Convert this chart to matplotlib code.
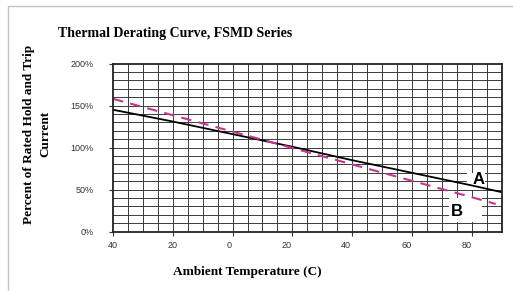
import matplotlib
matplotlib.use("Agg")
import matplotlib.pyplot as plt
import matplotlib.transforms as mtransforms
from matplotlib.patches import Rectangle

# Data
temps = [-40, -20, 0, 20, 40, 60, 80, 90]
curve_a = [145, 131, 116, 101, 85, 70, 55, 47]
temps_b = [-40, -20, 0, 20, 40, 60, 80, 88]
curve_b = [158, 138.5, 119, 99.5, 80, 60.5, 41, 33]
xtick_vals = [-40, -20, 0, 20, 40, 60, 80]
xtick_labels = ["40", "20", "0", "20", "40", "60", "80"]
ytick_vals = [0, 50, 100, 150, 200]
ytick_labels = ["0%", "50%", "100%", "150%", "200%"]

title = "Thermal Derating Curve, FSMD Series"
ylabel = "Percent of Rated Hold and Trip\nCurrent"
xlabel = "Ambient Temperature (C)"

W, H = 513, 291
fig = plt.figure(figsize=(W / 100, H / 100), dpi=100)
fig.patch.set_facecolor("white")

# outer frame (top and left edges visible)
fig.patches.append(Rectangle((8 / W, -0.2), 1.2, 1.2 - 6 / H,
                             transform=fig.transFigure, fill=False,
                             edgecolor="#c4c4c4", linewidth=1.0))

ax = fig.add_axes([113 / W, 1 - 231.7 / H, (501.7 - 113) / W, (231.7 - 63.5) / H])
ax.set_xlim(-40, 90)
ax.set_ylim(0, 200)

# grid
for gx in range(-35, 90, 5):
    ax.axvline(gx, color="#3a3a3a", lw=0.7, zorder=1)
for gy in range(10, 200, 10):
    ax.axhline(gy, color="#3a3a3a", lw=0.7, zorder=1)

# label boxes
ax.add_patch(Rectangle((72.3, 11.5), 11.0, 29.0, facecolor="white", edgecolor="none", zorder=2))
ax.add_patch(Rectangle((78.5, 49.0), 6.0, 21.0, facecolor="white", edgecolor="none", zorder=2))

ax.plot(temps, curve_a, color="black", lw=1.3, zorder=4)
ax.plot(temps_b, curve_b, color="#C8338F", lw=1.5, dashes=(5, 3.5), zorder=4)

ax.text(82.1, 61.5, "A", family="Liberation Sans", weight="bold", fontsize=12,
        ha="center", va="center", zorder=3)
ax.text(74.9, 24.6, "B", family="Liberation Sans", weight="bold", fontsize=12,
        ha="center", va="center", zorder=3)

for s in ax.spines.values():
    s.set_color("#222222")
    s.set_linewidth(1.3)
    s.set_zorder(5)

ax.set_xticks(xtick_vals)
ax.set_xticklabels(xtick_labels, family="Liberation Sans", fontsize=6.5, color="#333333")
ax.set_yticks(ytick_vals)
ax.set_yticklabels(ytick_labels, family="Liberation Sans", fontsize=6.5, color="#333333")
ax.tick_params(axis="x", length=3, width=0.8, pad=4, color="#333333")
ax.tick_params(axis="y", length=3, width=0.8, pad=11, color="#333333")
for lab in ax.get_yticklabels():
    lab.set_horizontalalignment("right")

offsets = [0, 0, -3, -5.5, -6, -5, -5]
for lab, off in zip(ax.get_xticklabels(), offsets):
    lab.set_transform(lab.get_transform() + mtransforms.ScaledTranslation(off / 100, 0, fig.dpi_scale_trans))

fig.text(58 / W, 1 - 33 / H, title, family="Liberation Serif", weight="bold",
         fontsize=10, ha="left", va="center")
fig.text(247.5 / W, 1 - 272.5 / H, xlabel, family="Liberation Serif", weight="bold",
         fontsize=9.5, ha="center", va="center")
fig.text(37.5 / W, 1 - 134 / H, ylabel, family="Liberation Serif", weight="bold",
         fontsize=9.5, ha="center", va="center", rotation=90, linespacing=1.45,
         multialignment="center")

fig.savefig("out.png", dpi=100, facecolor="white")
